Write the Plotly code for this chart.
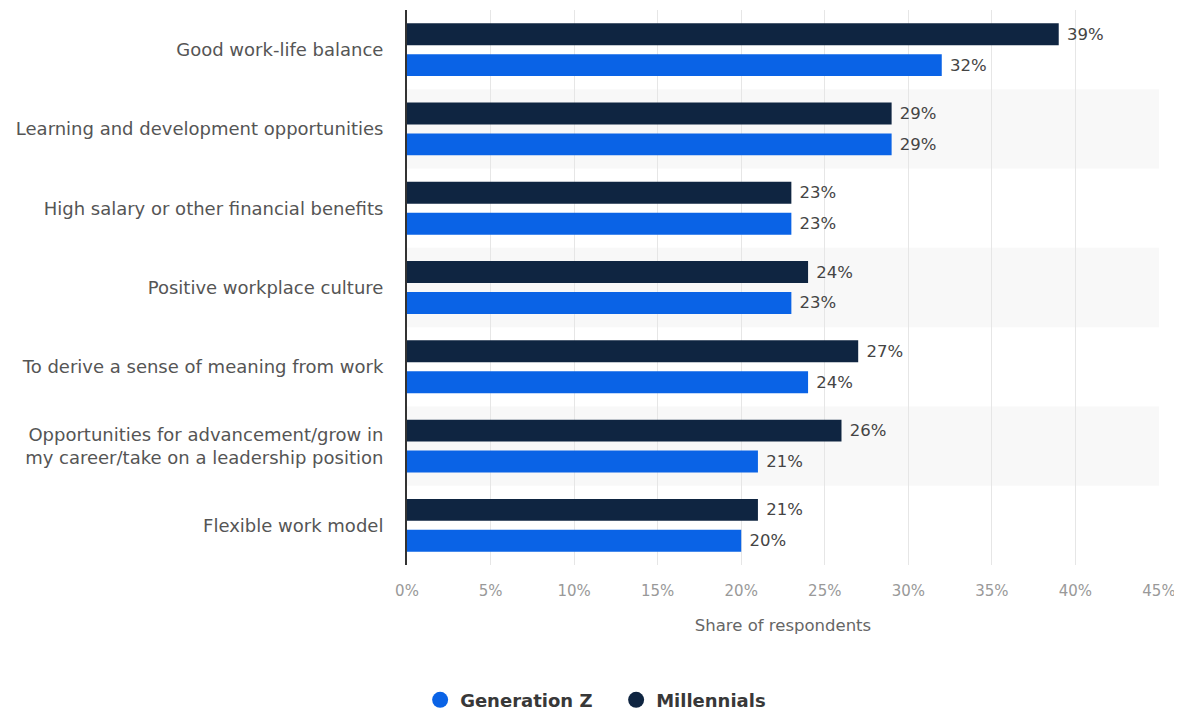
import plotly.graph_objects as go

categories = [
    "Good work-life balance",
    "Learning and development opportunities",
    "High salary or other financial benefits",
    "Positive workplace culture",
    "To derive a sense of meaning from work",
    "Opportunities for advancement/grow in<br>my career/take on a leadership position",
    "Flexible work model",
]
millennials = [39, 29, 23, 24, 27, 26, 21]
gen_z = [32, 29, 23, 23, 24, 21, 20]
x_ticks = [0, 5, 10, 15, 20, 25, 30, 35, 40, 45]
x_tick_labels = [f"{v}%" for v in x_ticks]

NAVY = "#0f2541"
BLUE = "#0a63e6"
FONT = "DejaVu Sans"

fig = go.Figure()
fig.add_trace(go.Bar(
    y=categories, x=millennials, orientation="h", name="Millennials",
    marker=dict(color=NAVY, line=dict(width=0)),
    text=[f" {v}%" for v in millennials], textposition="outside",
    textfont=dict(color="#444444", size=16.5, family=FONT),
    cliponaxis=False, showlegend=False,
))
fig.add_trace(go.Bar(
    y=categories, x=gen_z, orientation="h", name="Generation Z",
    marker=dict(color=BLUE, line=dict(width=0)),
    text=[f" {v}%" for v in gen_z], textposition="outside",
    textfont=dict(color="#444444", size=16.5, family=FONT),
    cliponaxis=False, showlegend=False,
))
# legend entries with circular symbols
for name, col in [("Generation Z", BLUE), ("Millennials", NAVY)]:
    fig.add_trace(go.Scatter(
        x=[None], y=[None], mode="markers", name=name,
        marker=dict(symbol="circle", size=16, color=col),
        showlegend=True, hoverinfo="skip",
    ))

# alternating row bands
for i, c in enumerate(categories):
    if i % 2 == 1:
        fig.add_shape(type="rect", xref="paper", yref="y",
                      x0=0, x1=1, y0=i - 0.5, y1=i + 0.5,
                      fillcolor="#f8f8f8", line=dict(width=0), layer="below")

fig.update_layout(
    width=1174, height=707,
    margin=dict(l=399, r=23, t=2, b=150),
    paper_bgcolor="white", plot_bgcolor="white",
    barmode="group", bargap=0.22, bargroupgap=0.29,
    font=dict(family=FONT, color="#555555"),
    showlegend=True,
    legend=dict(orientation="h", xref="container", yref="container",
                x=0.518, xanchor="center", y=0.021, yanchor="middle",
                font=dict(size=18, color="#383838", weight="bold"),
                entrywidth=151,
                itemsizing="trace"),
    xaxis=dict(range=[0, 45], tickvals=x_ticks, ticktext=x_tick_labels,
               showgrid=True, gridcolor="#e6e6e6", gridwidth=1, zeroline=False,
               tickfont=dict(size=15, color="#999999"), ticks="",
               ticklabelstandoff=15,
               title=dict(text="Share of respondents",
                          font=dict(size=16.5, color="#666666"), standoff=20)),
    yaxis=dict(autorange="reversed", showline=True, linecolor="#333333", linewidth=2,
               showgrid=False, ticks="", tickfont=dict(size=18, color="#555555"),
               ticklabelstandoff=18),
)

fig.write_html("out.html")
